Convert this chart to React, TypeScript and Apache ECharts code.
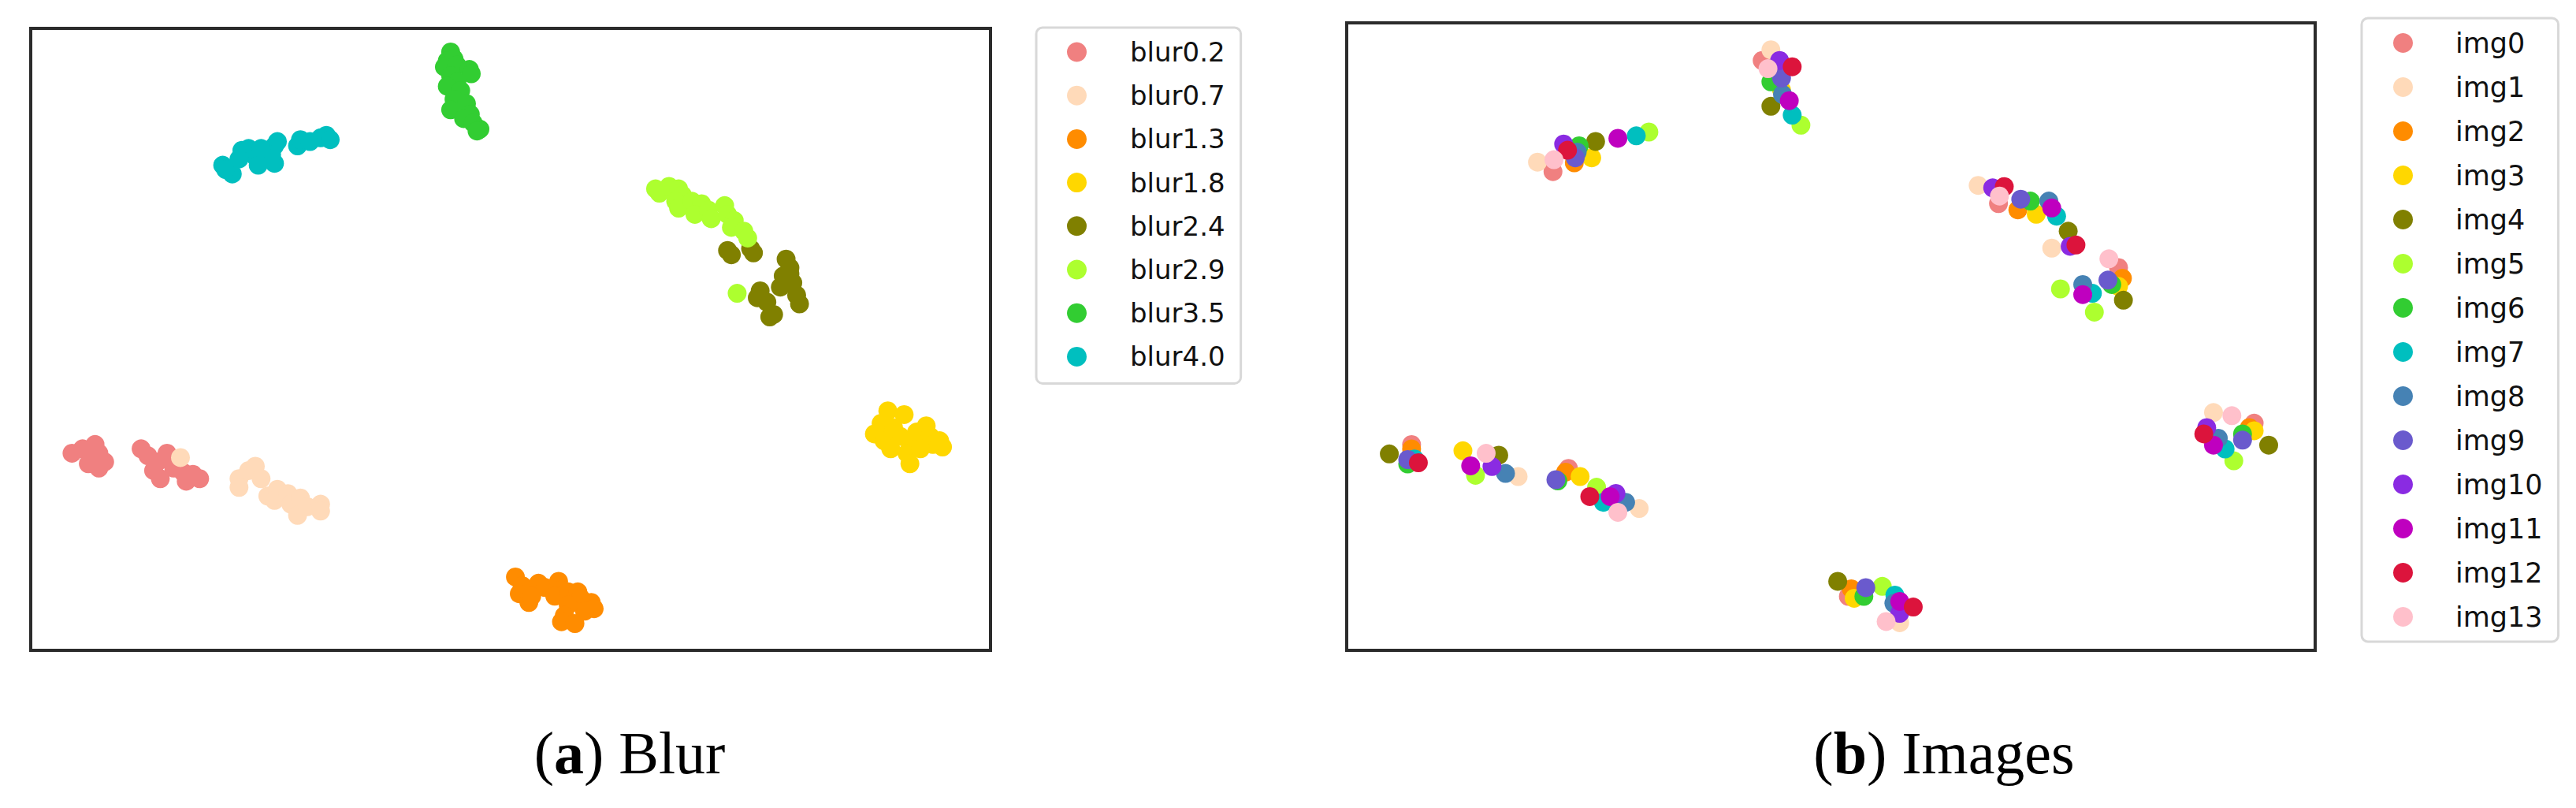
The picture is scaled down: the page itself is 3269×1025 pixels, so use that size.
import React, { useEffect, useRef } from "react";
import * as echarts from "echarts";

// ---------- Panel (a): Blur ----------
const BLUR_NAMES = ["blur0.2", "blur0.7", "blur1.3", "blur1.8", "blur2.4", "blur2.9", "blur3.5", "blur4.0"];
const BLUR_COLORS = ["#F08080", "#FFDAB9", "#FF8C00", "#FFD700", "#808000", "#ADFF2F", "#32CD32", "#00BFBF"];

const blur02 = [[4.3,31.7],[5.4,32.4],[6.7,33.1],[7.1,31.7],[6.0,30.0],[7.1,29.3],[7.7,30.3],[11.5,32.4],[12.2,31.3],[13.2,30.3],[12.8,28.9],[13.5,27.6],[14.2,31.7],[14.9,29.3],[15.9,28.6],[16.9,28.3],[17.6,27.6],[16.2,27.2]];
const blur07 = [[15.6,31.0],[21.7,27.6],[22.7,28.9],[23.4,29.6],[24.0,27.6],[21.7,26.2],[24.7,24.8],[25.7,25.9],[25.4,24.1],[26.8,25.2],[27.1,23.5],[28.1,24.5],[27.8,21.7],[28.8,23.1],[30.2,23.5],[30.2,22.4]];
const blur13 = [[50.5,11.8],[51.2,10.4],[50.9,9.1],[51.9,7.7],[52.9,10.8],[53.6,10.1],[55.0,11.1],[55.3,9.7],[54.6,8.7],[56.0,9.4],[57.0,9.4],[57.3,8.4],[58.4,7.7],[58.7,6.7],[57.7,6.3],[56.0,7.3],[55.6,5.6],[55.3,4.6],[56.7,4.3],[52.2,8.7]];
const blur18 = [[89.3,38.5],[91.0,37.9],[88.6,36.5],[87.9,34.8],[88.9,33.7],[89.6,32.4],[90.6,34.4],[91.6,33.4],[91.3,31.7],[91.6,30.0],[92.3,35.1],[93.3,36.1],[93.7,34.4],[94.0,33.1],[95.0,32.7],[94.7,33.7],[92.7,32.4],[89.9,35.8]];
const blur24 = [[72.6,64.3],[73.0,63.6],[75.0,64.6],[75.3,63.9],[78.7,62.9],[79.1,61.5],[78.4,60.2],[79.4,59.1],[78.1,58.4],[76.0,57.8],[75.7,56.7],[76.7,56.0],[79.8,57.1],[80.1,55.7],[77.4,54.0],[77.0,53.6],[79.1,60.5]];
const blur29 = [[65.1,74.2],[65.5,73.5],[66.5,74.6],[67.5,74.2],[67.9,73.2],[67.2,72.2],[67.5,71.1],[68.9,72.2],[69.9,71.8],[69.2,70.1],[70.6,70.8],[70.9,69.4],[72.3,71.5],[72.6,70.1],[73.3,69.1],[73.0,68.0],[74.3,67.4],[74.7,66.3],[73.6,57.4]];
const blur35 = [[43.75,96.2],[43.4,94.8],[44.1,95.1],[43.1,93.8],[44.4,94.1],[45.7,93.4],[45.9,92.7],[43.75,92.4],[44.4,91.4],[43.4,90.7],[44.8,90.0],[44.1,88.6],[45.4,87.9],[43.75,86.9],[45.8,86.2],[45.1,85.5],[46.1,84.8],[46.8,83.8],[46.5,83.5]];
const blur40 = [[20.0,78.0],[21.0,76.6],[20.3,77.3],[22.0,80.4],[22.7,80.7],[23.4,79.4],[23.7,78.0],[24.4,80.0],[25.4,81.1],[25.4,78.3],[25.7,81.8],[25.1,79.7],[27.8,81.1],[28.1,82.1],[29.1,81.8],[30.2,82.4],[30.8,82.8],[31.2,82.1],[21.7,79.0],[24.0,80.7]];
const BLUR_DATA = [blur02, blur07, blur13, blur18, blur24, blur29, blur35, blur40];

// ---------- Panel (b): Images ----------
const IMG_NAMES = ["img0","img1","img2","img3","img4","img5","img6","img7","img8","img9","img10","img11","img12","img13"];
const IMG_COLORS = ["#F08080","#FFDAB9","#FF8C00","#FFD700","#808000","#ADFF2F","#32CD32","#00BFBF","#4682B4","#6A5ACD","#8A2BE2","#BF00BF","#DC143C","#FFC0CB"];

const img0 = [[42.9,94.0],[21.3,76.3],[67.3,71.2],[79.7,61.0],[93.7,36.2],[6.7,32.8],[22.9,29.0],[51.8,8.6]];
const img1 = [[43.8,95.7],[19.7,77.8],[65.2,74.1],[72.8,64.1],[89.5,37.9],[17.7,27.7],[30.2,22.6],[57.1,4.4]];
const img2 = [[44.3,91.6],[23.5,77.7],[69.3,70.2],[80.1,59.3],[93.2,35.5],[6.7,32.1],[22.6,28.4],[52.1,9.8]];
const img3 = [[44.9,89.3],[25.3,78.5],[71.2,69.5],[79.7,58.0],[93.7,35.0],[12.0,31.8],[24.1,27.7],[52.4,8.3]];
const img4 = [[43.8,86.7],[25.7,81.1],[74.5,66.8],[80.2,55.8],[95.2,32.7],[4.4,31.3],[15.7,31.1],[50.7,11.0]];
const img5 = [[46.9,83.7],[31.2,82.6],[73.7,57.6],[77.2,53.9],[91.6,30.2],[13.3,27.9],[25.8,26.0],[55.3,10.2]];
const img6 = [[43.8,90.6],[24.0,80.4],[70.6,71.6],[79.0,58.3],[92.5,34.5],[6.3,29.7],[21.8,27.0],[53.4,8.6]];
const img7 = [[46.0,85.3],[29.9,82.0],[73.3,69.2],[77.0,56.9],[90.7,32.1],[7.0,30.5],[26.5,23.6],[56.6,8.8]];
const img8 = [[45.0,88.6],[23.8,79.4],[72.5,71.6],[76.0,58.3],[90.0,33.8],[16.4,28.2],[28.8,23.6],[56.5,7.5]];
const img9 = [[44.9,91.2],[23.6,78.5],[69.6,71.9],[78.6,59.0],[92.5,33.5],[6.3,30.4],[21.6,27.2],[53.6,10.0]];
const img10 = [[44.7,94.0],[22.4,80.7],[66.7,73.7],[74.7,64.4],[88.8,35.5],[15.0,29.3],[27.8,25.0],[57.1,5.9]];
const img11 = [[45.7,87.6],[28.0,81.6],[72.8,70.5],[76.0,56.7],[89.5,32.7],[12.8,29.4],[27.2,24.5],[57.1,7.8]];
const img12 = [[46.0,93.0],[22.8,79.7],[67.9,73.9],[75.3,64.6],[88.5,34.5],[7.4,29.9],[25.1,24.5],[58.5,6.9]];
const img13 = [[43.5,92.7],[21.4,78.2],[67.4,72.4],[78.7,62.4],[91.4,37.4],[14.4,31.4],[28.0,22.0],[55.7,4.6]];
const IMG_DATA = [img0,img1,img2,img3,img4,img5,img6,img7,img8,img9,img10,img11,img12,img13];

const CAPTIONS = [
  { tag: "a", text: "Blur" },
  { tag: "b", text: "Images" },
];

const hiddenAxis = (gridIndex: number) => ({
  type: "value" as const,
  gridIndex,
  min: 0,
  max: 100,
  show: false,
  splitLine: { show: false },
});

export default function App() {
  const ref = useRef<HTMLDivElement>(null);

  useEffect(() => {
    if (!ref.current) return;
    const chart = echarts.init(ref.current, null, { renderer: "svg" });

    const series: any[] = [];
    BLUR_DATA.forEach((d, i) => {
      series.push({
        type: "scatter",
        name: BLUR_NAMES[i],
        xAxisIndex: 0,
        yAxisIndex: 0,
        data: d,
        symbol: "circle",
        symbolSize: 24,
        itemStyle: { color: BLUR_COLORS[i], opacity: 1 },
        emphasis: { disabled: true },
      });
    });
    IMG_DATA.forEach((d, i) => {
      series.push({
        type: "scatter",
        name: IMG_NAMES[i],
        xAxisIndex: 1,
        yAxisIndex: 1,
        data: d,
        symbol: "circle",
        symbolSize: 24,
        itemStyle: { color: IMG_COLORS[i], opacity: 1 },
        emphasis: { disabled: true },
      });
    });

    const legendCommon = {
      orient: "vertical" as const,
      icon: "circle",
      itemWidth: 25,
      itemHeight: 25,
      selectedMode: false,
      borderColor: "#d8d8d8",
      borderWidth: 3,
      borderRadius: 8,
      backgroundColor: "#ffffff",
    };

    const captionGraphic = CAPTIONS.map((c, i) => ({
      type: "text",
      x: i === 0 ? 799 : 2467,
      y: 955,
      style: {
        text: `{p|(}{t|${c.tag}}{p|) ${c.text}}`,
        align: "center",
        verticalAlign: "middle",
        rich: {
          p: { fontFamily: "Liberation Serif", fontSize: 76, fill: "#000" },
          t: { fontFamily: "Liberation Serif", fontSize: 76, fontWeight: "bold", fill: "#000" },
        },
      },
    }));

    chart.setOption({
      animation: false,
      backgroundColor: "#ffffff",
      grid: [
        { left: 39, top: 36, width: 1218, height: 789, show: true, borderColor: "#2b2b2b", borderWidth: 4, backgroundColor: "transparent" },
        { left: 1709, top: 29, width: 1229, height: 796, show: true, borderColor: "#2b2b2b", borderWidth: 4, backgroundColor: "transparent" },
      ],
      xAxis: [hiddenAxis(0), hiddenAxis(1)],
      yAxis: [hiddenAxis(0), hiddenAxis(1)],
      legend: [
        {
          ...legendCommon,
          data: BLUR_NAMES,
          left: 1315,
          top: 35,
          padding: [14, 20, 17, 39],
          itemGap: 21.2,
          textStyle: { fontFamily: "DejaVu Sans", fontSize: 34, color: "#111", padding: [0, 0, 0, 50] },
        },
        {
          ...legendCommon,
          data: IMG_NAMES,
          left: 2997,
          top: 23,
          padding: [14, 20, 14, 40],
          itemGap: 21,
          textStyle: { fontFamily: "DejaVu Sans", fontSize: 35, color: "#111", padding: [0, 0, 0, 49] },
        },
      ],
      graphic: captionGraphic,
      series,
    });

    return () => chart.dispose();
  }, []);

  return (
    <div
      ref={ref}
      style={{ position: "fixed", left: 0, top: 0, width: 3269, height: 1025, background: "#fff" }}
    />
  );
}
